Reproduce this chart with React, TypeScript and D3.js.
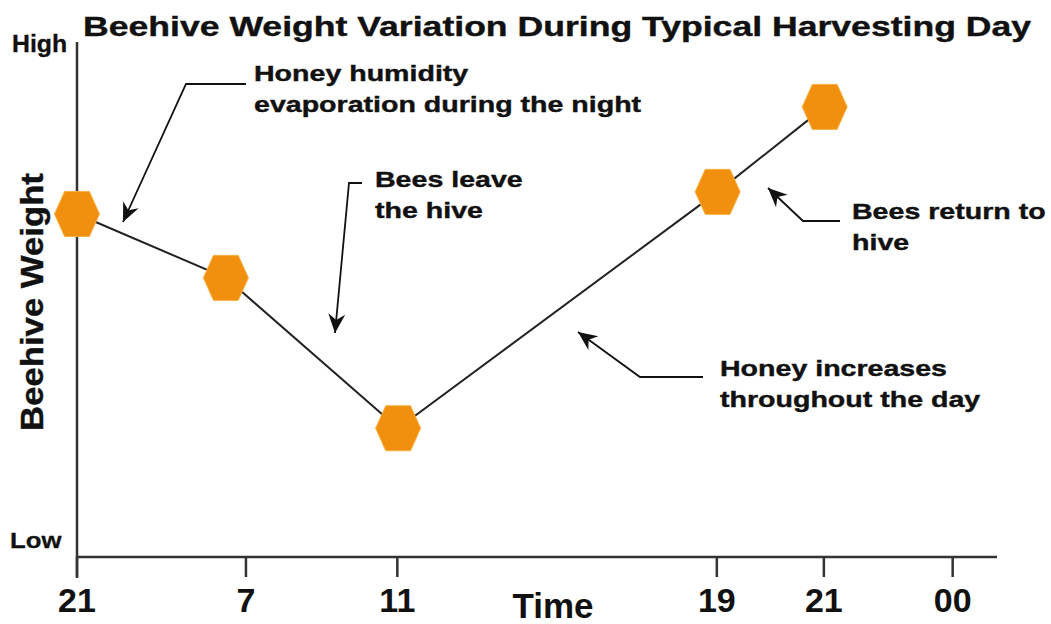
import React from 'react';
import * as d3 from 'd3';

// ---------- data ----------
const tickLabels = ['21', '7', '11', '19', '21', '00'];
const tickPositions = [0, 2.02, 3.83, 7.65, 8.93, 10.47];
const pointPositions = [0, 1.78, 3.84, 7.66, 8.94];
const pointWeights = [66.6, 54.2, 25.0, 70.9, 87.4];
const yLabels = ['Low', 'High'];
const titleText = 'Beehive Weight Variation During Typical Harvesting Day';
const xTitle = 'Time';
const yTitle = 'Beehive Weight';
const annotationTexts = [
  ['Honey humidity', 'evaporation during the night'],
  ['Bees leave', 'the hive'],
  ['Bees return to', 'hive'],
  ['Honey increases', 'throughout the day'],
];

// ---------- layout ----------
const W = 1051;
const H = 624;
const annLayout = [
  { tx: 254, ty: 81, path: [[246, 84], [186, 84], [123, 222]] },
  { tx: 375, ty: 187, path: [[362, 183], [349, 183], [335, 333]] },
  { tx: 852, ty: 219, path: [[840, 221], [803, 221], [768, 188]] },
  { tx: 720, ty: 376, path: [[703, 377], [640, 377], [578, 332]] },
];

const hexagon = {
  draw(ctx: any, size: number) {
    const r = Math.sqrt(size);
    const e = r * 0.55;
    ctx.moveTo(-r, 0);
    ctx.lineTo(-e, -r);
    ctx.lineTo(e, -r);
    ctx.lineTo(r, 0);
    ctx.lineTo(e, r);
    ctx.lineTo(-e, r);
    ctx.closePath();
  },
};

export default function App() {
  const x = d3.scaleLinear().domain([0, 11]).range([77, 997]);
  const y = d3.scaleLinear().domain([0, 100]).range([557, 42]);
  const points = pointPositions.map((p, i) => ({ p, w: pointWeights[i] }));
  const line = d3
    .line<{ p: number; w: number }>()
    .x((d) => x(d.p))
    .y((d) => y(d.w));
  const hexPath = d3.symbol().type(hexagon as any).size(22.5 * 22.5)() as string;
  const arrowLine = d3.line();
  const font = '"Liberation Sans", Arial, sans-serif';
  const ink = '#111';

  return (
    <svg
      width={W}
      height={H}
      style={{ position: 'absolute', left: 0, top: 0, background: '#fff' }}
      fontFamily={font}
      fontWeight="bold"
    >
      <defs>
        <marker
          id="arrowhead"
          markerUnits="userSpaceOnUse"
          markerWidth={26}
          markerHeight={22}
          refX={0}
          refY={0}
          viewBox="-22 -11 26 22"
          orient="auto"
        >
          <path d="M0,0 L-19,-8.5 L-13,0 L-19,8.5 Z" fill={ink} />
        </marker>
      </defs>
      <rect width={W} height={H} fill="#fff" />

      {/* title */}
      <g transform="translate(83,36) scale(1.272,1)">
        <text fontSize={28} fill={ink} stroke={ink} strokeWidth={0.4}>{titleText}</text>
      </g>

      {/* axes */}
      <line x1={x(0)} x2={x(0)} y1={y(100)} y2={y(0) + 21} stroke="#333" strokeWidth={2.5} />
      <line x1={x(0)} x2={x(11)} y1={y(0)} y2={y(0)} stroke="#333" strokeWidth={2.5} />
      {tickPositions.map((t, i) => (
        <g key={i}>
          <line x1={x(t)} x2={x(t)} y1={y(0)} y2={y(0) + 20} stroke="#333" strokeWidth={2.5} />
          <text x={x(t)} y={612} textAnchor="middle" fontSize={34} fill={ink}>
            {tickLabels[i]}
          </text>
        </g>
      ))}
      <text x={553} y={618} textAnchor="middle" fontSize={35} fill={ink}>{xTitle}</text>

      {/* y labels */}
      <g transform="translate(12,52) scale(1.08,1)">
        <text fontSize={23} fill={ink} stroke={ink} strokeWidth={0.3}>{yLabels[1]}</text>
      </g>
      <g transform="translate(10,548) scale(1.12,1)">
        <text fontSize={23} fill={ink} stroke={ink} strokeWidth={0.3}>{yLabels[0]}</text>
      </g>
      <g transform="translate(43,302) rotate(-90) scale(1.12,1)">
        <text textAnchor="middle" fontSize={31} fill={ink} stroke={ink} strokeWidth={0.4}>{yTitle}</text>
      </g>

      {/* data line */}
      <path d={line(points) as string} fill="none" stroke="#222" strokeWidth={2} />
      {points.map((d, i) => (
        <path
          key={i}
          d={hexPath}
          transform={`translate(${x(d.p)},${y(d.w)})`}
          fill="#F0900E"
          stroke="#F6B042"
          strokeWidth={1}
        />
      ))}

      {/* annotations */}
      {annotationTexts.map((lines, i) => {
        const a = annLayout[i];
        return (
          <g key={i}>
            <path
              d={arrowLine(a.path as [number, number][]) as string}
              fill="none"
              stroke={ink}
              strokeWidth={1.8}
              markerEnd="url(#arrowhead)"
            />
            <g transform={`translate(${a.tx},${a.ty}) scale(1.27,1)`}>
              {lines.map((l, j) => (
                <text key={j} y={j * 31} fontSize={22.5} fill={ink} stroke={ink} strokeWidth={0.4}>
                  {l}
                </text>
              ))}
            </g>
          </g>
        );
      })}
    </svg>
  );
}
